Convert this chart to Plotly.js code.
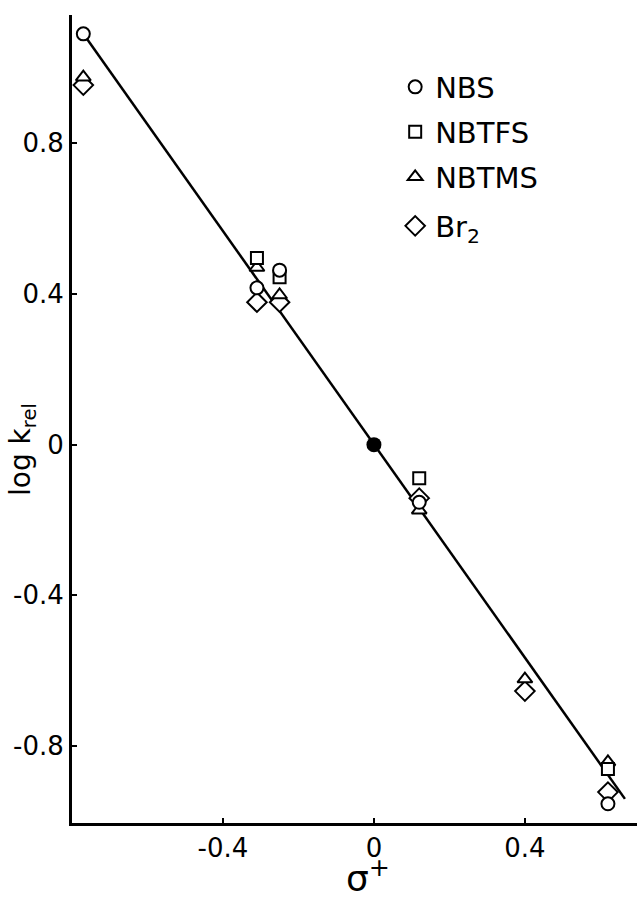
<!DOCTYPE html>
<html>
<head>
<meta charset="utf-8">
<script src="https://cdn.plot.ly/plotly-3.0.1.min.js"></script>
<style>html,body{margin:0;padding:0;background:#fff;}#chart{width:637px;height:899px;}</style>
</head>
<body>
<div id="chart"></div>
<script>
// sigma+ values and log k_rel for each brominating agent
const nbsX = [-0.77, -0.31, -0.25, 0.12, 0.62];
const nbsY = [1.09, 0.416, 0.463, -0.153, -0.953];
const nbtfsX = [-0.31, -0.25, 0.12, 0.62];
const nbtfsY = [0.495, 0.444, -0.089, -0.861];
const nbtmsX = [-0.77, -0.31, -0.25, 0.12, 0.40, 0.62];
const nbtmsY = [0.975, 0.47, 0.397, -0.174, -0.622, -0.842];
const br2X = [-0.77, -0.31, -0.25, 0.12, 0.40, 0.62];
const br2Y = [0.954, 0.378, 0.378, -0.142, -0.654, -0.922];
const refX = [0];
const refY = [0];
// fitted correlation line
const lineX = [-0.77, 0.665];
const lineY = [1.09, -0.94];
// ticks
const xTickVals = [-0.4, 0, 0.4];
const xTickText = ["-0.4", "0", "0.4"];
const yTickVals = [-0.8, -0.4, 0, 0.4, 0.8];
const yTickText = ["-0.8", "-0.4", "0", "0.4", "0.8"];

const mk = (symbol, size) => ({symbol: symbol, size: size, color: '#fff', line: {color: '#000', width: 2}});

const traces = [
  {x: lineX, y: lineY, mode: 'lines', line: {color: '#000', width: 2.5}, showlegend: false, hoverinfo: 'skip'},
  {x: br2X, y: br2Y, mode: 'markers', name: 'Br<sub>2</sub>', marker: mk('diamond', 15), legend: 'legend4'},
  {x: nbtmsX, y: nbtmsY, mode: 'markers', name: 'NBTMS', marker: mk('triangle-up', 13), legend: 'legend3'},
  {x: nbtfsX, y: nbtfsY, mode: 'markers', name: 'NBTFS', marker: mk('square', 12), legend: 'legend2'},
  {x: nbsX, y: nbsY, mode: 'markers', name: 'NBS', marker: mk('circle', 13), legend: 'legend'},
  {x: refX, y: refY, mode: 'markers', marker: {symbol: 'circle', size: 15, color: '#000'}, showlegend: false}
];

const legFont = {size: 29, family: 'DejaVu Sans, Arial, sans-serif', color: '#000'};
const leg = (cy) => ({x: 0.572, y: (823 - cy) / 808, xanchor: 'left', yanchor: 'middle',
                      bgcolor: 'rgba(0,0,0,0)', font: legFont});

const layout = {
  width: 637, height: 899,
  margin: {l: 72, r: 0, t: 15, b: 76},
  paper_bgcolor: '#fff', plot_bgcolor: '#fff',
  font: {family: 'DejaVu Sans, Arial, sans-serif', color: '#000', size: 26},
  showlegend: true,
  legend: leg(87),
  legend2: leg(132),
  legend3: leg(177),
  legend4: leg(226),
  xaxis: {
    range: [-0.8, 0.697], showgrid: false, zeroline: false,
    showline: true, linecolor: '#000', linewidth: 3,
    ticks: 'inside', ticklen: 5, tickwidth: 2, tickcolor: '#000',
    tickvals: xTickVals, ticktext: xTickText, tickfont: {size: 26},
    title: {text: ''}
  },
  yaxis: {
    range: [-1.004, 1.14], showgrid: false, zeroline: false,
    showline: true, linecolor: '#000', linewidth: 3,
    ticks: 'inside', ticklen: 5, tickwidth: 2, tickcolor: '#000',
    tickvals: yTickVals, ticktext: yTickText, tickfont: {size: 26},
    title: {text: ''}
  },
  annotations: [
    {xref: 'paper', yref: 'paper', x: (368 - 72) / 565, y: -78 / 808, xanchor: 'center', yanchor: 'bottom',
     text: 'σ<sup>+</sup>', showarrow: false, font: {size: 36}},
    {xref: 'paper', yref: 'paper', x: -49 / 565, y: (823 - 450) / 808, xanchor: 'center', yanchor: 'middle',
     text: 'log k<sub>rel</sub>', textangle: -90, showarrow: false, font: {size: 28}}
  ]
};

Plotly.newPlot('chart', traces, layout, {staticPlot: true, displayModeBar: false});
</script>
</body>
</html>
